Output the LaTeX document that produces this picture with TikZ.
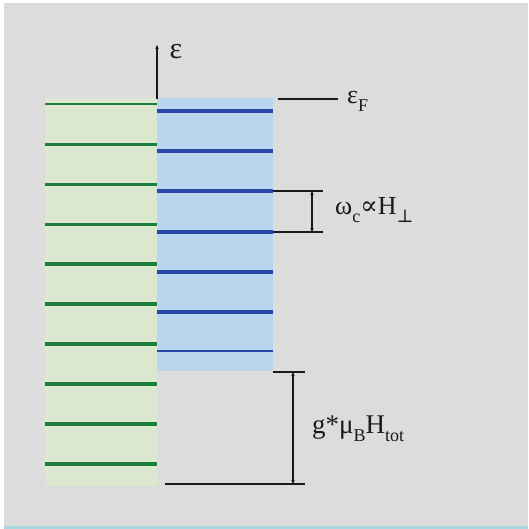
\documentclass[tikz,border=0pt]{standalone}
\usepackage{fontspec}
\setmainfont{Liberation Serif}
\newfontfamily\symfont{DejaVu Serif}
\usetikzlibrary{arrows.meta, positioning}
\definecolor{panelgray}{HTML}{DCDCDC}
\definecolor{edgeblue}{HTML}{A9D6DF}
\definecolor{palegreen}{HTML}{DBE7CF}
\definecolor{paleblue}{HTML}{B9D5EE}
\definecolor{dkgreen}{HTML}{1C7F3C}
\definecolor{dkblue}{HTML}{2A47A8}
\definecolor{inkblack}{HTML}{1A1A1A}
\newcommand{\lowsub}[1]{\raisebox{-0.3em}{\fontsize{18}{20}\selectfont #1}}

\begin{document}
\begin{tikzpicture}[x=1pt, y=-1pt, >={Stealth[length=4pt, width=3.5pt]},
  level/.style={line width=#1},
  bar/.style={inkblack, line width=2.6pt},
  lbl/.style={font=\fontsize{26}{28}\selectfont, text=inkblack, inner sep=0pt}]

% Background
\useasboundingbox (0,0) rectangle (528,529);
\fill[panelgray] (4,3) rectangle (528,526);
\fill[edgeblue] (4,526) rectangle (528,528.5);

% Bands
\fill[palegreen] (45,98) rectangle (157,486);
\fill[paleblue] (157,98) rectangle (273,371);

% Green levels (left band)
\draw[dkgreen, level=2.2pt] (45,104) -- (157,104);
\draw[dkgreen, level=2.2pt] (45,144.5) -- (157,144.5);
\draw[dkgreen, level=2.2pt] (45,184.5) -- (157,184.5);
\draw[dkgreen, level=2.2pt] (45,224.5) -- (157,224.5);
\draw[dkgreen, level=3.6pt] (45,264) -- (157,264);
\draw[dkgreen, level=3.6pt] (45,304) -- (157,304);
\draw[dkgreen, level=3.6pt] (45,344) -- (157,344);
\draw[dkgreen, level=3.6pt] (45,384) -- (157,384);
\draw[dkgreen, level=3.6pt] (45,424) -- (157,424);
\draw[dkgreen, level=3.6pt] (45,464) -- (157,464);

% Blue levels (right band)
\draw[dkblue, level=3.8pt] (157,111) -- (273,111);
\draw[dkblue, level=3.8pt] (157,151) -- (273,151);
\draw[dkblue, level=3.8pt] (157,191) -- (273,191);
\draw[dkblue, level=3.8pt] (157,232) -- (273,232);
\draw[dkblue, level=3.8pt] (157,272) -- (273,272);
\draw[dkblue, level=3.8pt] (157,312) -- (273,312);
\draw[dkblue, level=2.4pt] (157,351) -- (273,351);

% Energy axis
\coordinate (axisfoot) at (157,99);
\coordinate (axistop) at (157,45);
\draw[bar, ->] (axisfoot) -- (axistop);
\node[lbl, font=\fontsize{30}{32}\selectfont] (eps) at (176,52) {ε};

% Fermi level
\coordinate (fermiL) at (278,99);
\coordinate (fermiR) at (338,99);
\draw[bar] (fermiL) -- (fermiR);
\node[lbl, anchor=west] (epsF) at (347,101) {ε\lowsub{F}};

% Cyclotron spacing
\coordinate (wtopL) at (273,191);
\coordinate (wtopR) at (323,191);
\coordinate (wbotL) at (273,232);
\coordinate (wbotR) at (323,232);
\coordinate (wtop) at (312,191);
\coordinate (wbot) at (312,232);
\draw[bar] (wtopL) -- (wtopR);
\draw[bar] (wbotL) -- (wbotR);
\draw[inkblack, line width=1.8pt, <->] (wtop) -- (wbot);
\node[lbl, anchor=west] (omega) at (335,210)
  {ω\lowsub{c}{\symfont ∝}H\lowsub{\symfont ⊥}};

% Zeeman splitting
\coordinate (ztopL) at (273,372);
\coordinate (ztopR) at (305,372);
\coordinate (zbotL) at (165,484);
\coordinate (zbotR) at (305,484);
\coordinate (ztop) at (293,372);
\coordinate (zbot) at (293,484);
\draw[bar] (ztopL) -- (ztopR);
\draw[bar] (zbotL) -- (zbotR);
\draw[inkblack, line width=1.8pt, <->] (ztop) -- (zbot);
\node[lbl, anchor=west, font=\fontsize{27}{29}\selectfont] (zeeman) at (312,429)
  {g*μ\lowsub{B}H\lowsub{tot}};

\end{tikzpicture}
\end{document}
